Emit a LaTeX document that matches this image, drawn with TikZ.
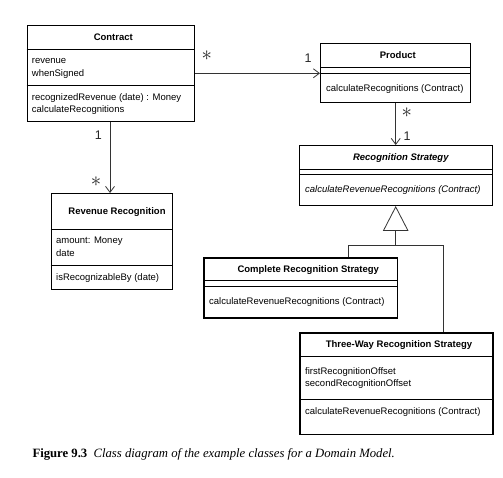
\documentclass[tikz,border=0pt]{standalone}
\usepackage{fontspec}
\setmainfont{Liberation Sans}
\newfontfamily\capfont{Liberation Serif}
\usetikzlibrary{arrows.meta}
\begin{document}
\begin{tikzpicture}[x=1pt,y=-1pt,
  box/.style={draw=black, line width=1pt, inner sep=0pt, anchor=north west},
  sepline/.style={draw=black, line width=0.8pt},
  ttl/.style={font=\fontsize{9.5}{11}\selectfont\bfseries, inner sep=0pt, text height=7pt, text depth=1pt},
  ttli/.style={font=\fontsize{9.5}{11}\selectfont\bfseries\itshape, inner sep=0pt, text height=7pt, text depth=1pt},
  txt/.style={font=\fontsize{9.5}{11}\selectfont, inner sep=0pt, anchor=west, text height=7pt, text depth=1pt},
  txti/.style={txt, font=\fontsize{9.5}{11}\selectfont\itshape},
  assoc/.style={draw=black!80, line width=0.8pt, -{Straight Barb[length=6pt,width=9pt,line width=0.8pt]}},
  conn/.style={draw=black!80, line width=0.8pt},
  gen/.style={draw=black!80, line width=0.8pt, -{Triangle[open, length=25pt, width=25.6pt, line width=0.8pt]}},
  mult/.style={font=\fontsize{12.5}{13}\selectfont, inner sep=0pt, text=black!85},
  star/.style={font=\fontsize{21}{21}\selectfont, inner sep=0pt, text=black!85}
]
\useasboundingbox (0,0) rectangle (503,478);

% Contract
\node[box, minimum width=167.3pt, minimum height=96pt] (contract) at (26.7,25) {};
\draw[sepline] (contract.west |- 0,49.3) -- (contract.east |- 0,49.3);
\draw[sepline] (contract.west |- 0,85.7) -- (contract.east |- 0,85.7);
\node[ttl] (contractT) at (113.3,37.3) {Contract};
\node[txt] (c1) at (31.7,61) {revenue};
\node[txt] (c2) at (31.7,73.3) {whenSigned};
\node[txt] (c3) at (31.7,97.3) {recognizedRevenue (date) : Money};
\node[txt] (c4) at (31.7,109.3) {calculateRecognitions};

% Product
\node[box, minimum width=150pt, minimum height=59pt] (product) at (320,43.3) {};
\draw[sepline] (product.west |- 0,67.3) -- (product.east |- 0,67.3);
\draw[sepline] (product.west |- 0,73.3) -- (product.east |- 0,73.3);
\node[ttl] (productT) at (397.8,55.7) {Product};
\node[txt] (p1) at (326,88.3) {calculateRecognitions (Contract)};

% Recognition Strategy
\node[box, minimum width=193pt, minimum height=60pt] (rs) at (299.3,145) {};
\draw[sepline] (rs.west |- 0,169.5) -- (rs.east |- 0,169.5);
\draw[sepline] (rs.west |- 0,174.8) -- (rs.east |- 0,174.8);
\node[ttli] (rsT) at (400.8,158) {Recognition Strategy};
\node[txti] (rs1) at (305,190) {calculateRevenueRecognitions (Contract)};

% Revenue Recognition
\node[box, minimum width=121pt, minimum height=96pt] (rr) at (50.7,193) {};
\draw[sepline] (rr.west |- 0,229) -- (rr.east |- 0,229);
\draw[sepline] (rr.west |- 0,265) -- (rr.east |- 0,265);
\node[ttl] (rrT) at (117,212) {Revenue Recognition};
\node[txt] (r1) at (56,241) {amount: Money};
\node[txt] (r2) at (56,253.5) {date};
\node[txt] (r3) at (56,277) {isRecognizableBy (date)};

% Complete Recognition Strategy
\node[box, line width=1.6pt, minimum width=193.4pt, minimum height=60pt] (complete) at (203.3,257.3) {};
\draw[sepline] (complete.west |- 0,280.7) -- (complete.east |- 0,280.7);
\draw[sepline] (complete.west |- 0,286.7) -- (complete.east |- 0,286.7);
\node[ttl] (completeT) at (308.3,269.3) {Complete Recognition Strategy};
\node[txt] (cp1) at (209,301.7) {calculateRevenueRecognitions (Contract)};

% Three-Way Recognition Strategy
\node[box, line width=1.3pt, minimum width=193pt, minimum height=101.7pt] (three) at (299.3,332.3) {};
\draw[sepline] (three.west |- 0,356) -- (three.east |- 0,356);
\draw[sepline] (three.west |- 0,399) -- (three.east |- 0,399);
\node[ttl] (threeT) at (399,344) {Three-Way Recognition Strategy};
\node[txt] (t1) at (305,371) {firstRecognitionOffset};
\node[txt] (t2) at (305,383.3) {secondRecognitionOffset};
\node[txt] (t3) at (305,411.7) {calculateRevenueRecognitions (Contract)};

% Associations
\draw[assoc] (contract.east |- 0,73.3) -- (product.west |- 0,73.3);
\node[star] (s1) at (206.7,56) {$\ast$};
\node[mult] (m1) at (308,58) {1};

\draw[assoc] (contract.south -| 110,0) -- (rr.north -| 110,0);
\node[mult] (m2) at (98.3,135) {1};
\node[star] (s2) at (96,182) {$\ast$};

\draw[assoc] (product.south -| 395.7,0) -- (rs.north -| 395.7,0);
\node[star] (s3) at (406.7,112.5) {$\ast$};
\node[mult] (m3) at (407,136.7) {1};

% Generalization
\coordinate (junc) at (395.7,245);
\draw[gen] (junc) -- (rs.south -| junc);
\draw[conn] (complete.north -| 348.3,0) |- (junc);
\draw[conn] (junc) -| (three.north -| 443.3,0);

% Caption
\node[inner sep=0pt, anchor=base west, font=\capfont\fontsize{12.7}{14}\selectfont] (cap) at (32.3,457.5)
  {\textbf{Figure 9.3}\hspace{0.5em}\textit{Class diagram of the example classes for a Domain Model.}};
\end{tikzpicture}
\end{document}
